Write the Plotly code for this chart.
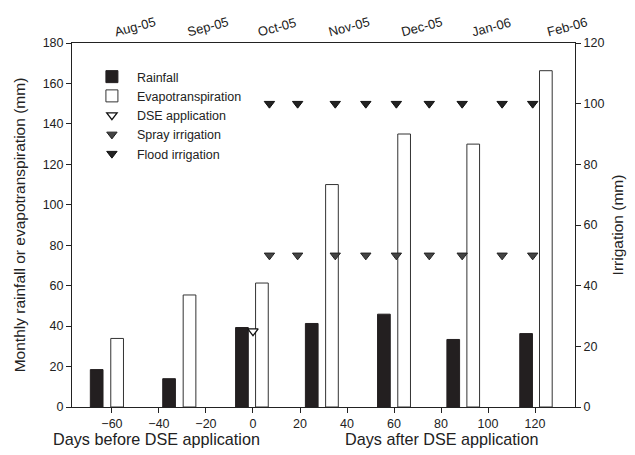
import plotly.graph_objects as go

# ---- data (days relative to DSE application) ----
months = ["Aug-05", "Sep-05", "Oct-05", "Nov-05", "Dec-05", "Jan-06", "Feb-06"]
month_day = [-59, -28, 2, 32, 63, 93, 125]

rain_day = [-66.5, -35.7, -4.7, 25.0, 55.7, 85.2, 116.2]
rainfall = [18.5, 14.0, 39.3, 41.3, 45.9, 33.4, 36.3]

et_day = [-57.8, -27.0, 3.8, 33.6, 64.3, 93.7, 124.6]
evapotranspiration = [33.9, 55.4, 61.3, 110.0, 135.0, 130.0, 166.3]

dse_day = [0]
dse_value = [25]

irr_day = [7, 19, 35, 48, 61, 75, 89, 106, 119]
spray_value = [50] * 9
flood_value = [100] * 9

bar_width = 5.4
FONT = "Liberation Sans, Arial, sans-serif"
AX = "#222222"

W, H = 635, 455
ML, MR, MT, MB = 72, 57, 43, 48
PW, PH = W - ML - MR, H - MT - MB


def px_x(x):
    return (x - ML) / PW


def px_y(y):
    return (H - MB - y) / PH


fig = go.Figure()
fig.add_trace(go.Bar(x=rain_day, y=rainfall, width=bar_width, name="Rainfall",
                     marker=dict(color="#231f20", line=dict(color="#231f20", width=1))))
fig.add_trace(go.Bar(x=et_day, y=evapotranspiration, width=bar_width, name="Evapotranspiration",
                     marker=dict(color="white", line=dict(color="#333333", width=1))))
fig.add_trace(go.Scatter(x=dse_day, y=dse_value, yaxis="y2", mode="markers", name="DSE application",
                         marker=dict(symbol="triangle-down", size=9, color="white",
                                     line=dict(color="#111111", width=1.3))))
fig.add_trace(go.Scatter(x=irr_day, y=spray_value, yaxis="y2", mode="markers", name="Spray irrigation",
                         marker=dict(symbol="triangle-down", size=9, color="#444444",
                                     line=dict(color="#222222", width=1))))
fig.add_trace(go.Scatter(x=irr_day, y=flood_value, yaxis="y2", mode="markers", name="Flood irrigation",
                         marker=dict(symbol="triangle-down", size=9, color="#222222",
                                     line=dict(color="#111111", width=1))))
# invisible trace to activate the top month axis
fig.add_trace(go.Scatter(x=month_day, y=[None] * len(month_day), xaxis="x2", mode="markers",
                         showlegend=False, hoverinfo="skip"))

fig.update_layout(
    width=W, height=H,
    margin=dict(l=ML, r=MR, t=MT, b=MB),
    paper_bgcolor="white", plot_bgcolor="white",
    font=dict(family=FONT, size=12.5, color=AX),
    showlegend=True,
    barmode="overlay",
    legend=dict(x=px_x(87), y=px_y(62), xanchor="left", yanchor="top", bgcolor="rgba(0,0,0,0)",
                font=dict(size=12.5), tracegroupgap=0, itemwidth=40),
    xaxis=dict(range=[-77, 137], tickvals=list(range(-60, 121, 20)), ticks="outside",
               ticklen=5, tickcolor=AX, showline=True, linecolor=AX, linewidth=1,
               showgrid=False, zeroline=False),
    xaxis2=dict(range=[-77, 137], overlaying="x", side="top", tickvals=month_day,
                ticktext=months, tickangle=-15, ticks="", showline=True, linecolor=AX,
                linewidth=1, showgrid=False, zeroline=False, tickfont=dict(size=13)),
    yaxis=dict(range=[0, 180], tickvals=list(range(0, 181, 20)), ticks="outside", ticklen=5,
               tickcolor=AX, showline=True, linecolor=AX, linewidth=1, showgrid=False,
               zeroline=False,
               title=dict(text="Monthly rainfall or evapotranspiration (mm)",
                          font=dict(size=15.5), standoff=13)),
    yaxis2=dict(range=[0, 120], tickvals=list(range(0, 121, 20)), overlaying="y", side="right",
                ticks="outside", ticklen=5, tickcolor=AX, showline=True, linecolor=AX,
                linewidth=1, showgrid=False, zeroline=False,
                title=dict(text="Irrigation (mm)", font=dict(size=15.5), standoff=8)),
    annotations=[
        dict(text="Days before DSE application", x=px_x(157), y=px_y(439), xref="paper",
             yref="paper", xanchor="center", yanchor="middle", showarrow=False,
             font=dict(size=16.2)),
        dict(text="Days after DSE application", x=px_x(444), y=px_y(439), xref="paper",
             yref="paper", xanchor="center", yanchor="middle", showarrow=False,
             font=dict(size=16.2)),
    ],
)

fig.write_html("out.html")
